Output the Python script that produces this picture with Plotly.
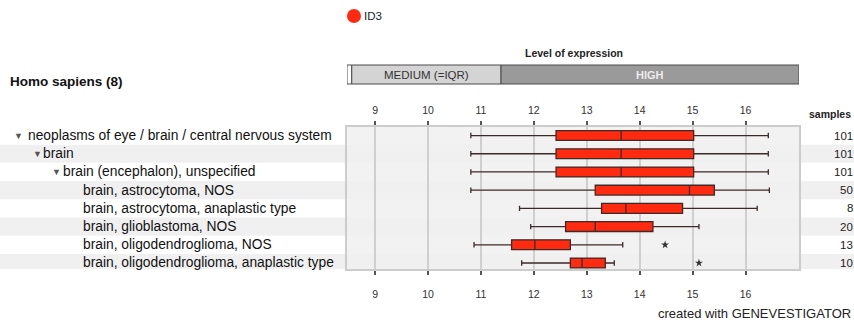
import plotly.graph_objects as go

W, H = 854, 322

# ---------------- data ----------------
categories = [
    "neoplasms of eye / brain / central nervous system",
    "brain",
    "brain (encephalon), unspecified",
    "brain, astrocytoma, NOS",
    "brain, astrocytoma, anaplastic type",
    "brain, glioblastoma, NOS",
    "brain, oligodendroglioma, NOS",
    "brain, oligodendroglioma, anaplastic type",
]
levels = [0, 1, 2, 3, 3, 3, 3, 3]
samples = [101, 101, 101, 50, 8, 20, 13, 10]
lower = [10.81, 10.81, 10.81, 10.81, 11.73, 11.94, 10.87, 11.77]
q1 = [12.42, 12.42, 12.42, 13.16, 13.28, 12.60, 11.58, 12.69]
median = [13.65, 13.65, 13.65, 14.94, 13.74, 13.16, 12.02, 12.91]
q3 = [15.02, 15.02, 15.02, 15.41, 14.81, 14.25, 12.69, 13.35]
upper = [16.43, 16.43, 16.43, 16.45, 16.22, 15.12, 13.68, 13.52]
outlier_rows = [6, 7]
outlier_vals = [14.48, 15.12]
tick_vals = [9, 10, 11, 12, 13, 14, 15, 16]
x_range = [8.47, 17.01]
low_max = 8.56
medium_max = 11.38
gene = "ID3"

FONT = "Arial, Liberation Sans, sans-serif"
RED = "#ff2a10"
rows = list(range(len(categories)))


def px(x):
    return x / W


def py(y):
    return 1 - y / H


fig = go.Figure()

fig.add_trace(go.Box(
    y=rows, q1=q1, median=median, q3=q3,
    lowerfence=lower, upperfence=upper,
    orientation="h", width=0.54, whiskerwidth=0.55,
    fillcolor=RED, line=dict(color="#3c2a28", width=1.3),
    showlegend=False, hoverinfo="skip", boxpoints=False,
))
fig.add_trace(go.Scatter(
    x=outlier_vals, y=outlier_rows, mode="markers",
    marker=dict(symbol="star", size=6, color="#333333"),
    showlegend=False, hoverinfo="skip",
))
# invisible trace to drive the top axis
fig.add_trace(go.Scatter(x=[None], y=[None], xaxis="x2", showlegend=False))

shapes = []
# alternating row bands
for r in rows:
    if r % 2 == 1:
        shapes.append(dict(type="rect", xref="paper", yref="y", x0=0, x1=1,
                           y0=r - 0.5, y1=r + 0.5, fillcolor="#f0f0f0",
                           line=dict(width=0), layer="below"))
# expression level bar
bar_y0, bar_y1 = py(84), py(65)
for x0, x1, col in [(x_range[0], low_max, "#ffffff"),
                    (low_max, medium_max, "#d4d4d4"),
                    (medium_max, x_range[1], "#9a9a9a")]:
    shapes.append(dict(type="rect", xref="x", yref="paper", x0=x0, x1=x1,
                       y0=bar_y0, y1=bar_y1, fillcolor=col,
                       line=dict(color="#4a4a4a", width=1)))
# legend marker
shapes.append(dict(type="circle", xref="paper", yref="paper",
                   x0=px(347), x1=px(361), y0=py(23), y1=py(9),
                   fillcolor="#ff2a10", line=dict(color="#ff2a10", width=0)))

annotations = []


def ann(x, y, text, size, color="#222222", xanchor="center", xref="paper", yref="paper"):
    annotations.append(dict(xref=xref, yref=yref, x=x, y=y, text=text, showarrow=False,
                            xanchor=xanchor, yanchor="middle",
                            font=dict(family=FONT, size=size, color=color)))


ann(px(362), py(16), gene, 11.5, "#222222", "left")
ann((low_max + medium_max) / 2, (bar_y0 + bar_y1) / 2, "MEDIUM (=IQR)", 11.5, "#333333",
    xref="x")
ann((medium_max + x_range[1]) / 2, (bar_y0 + bar_y1) / 2, "<b>HIGH</b>", 11, "#ececec",
    xref="x")
ann(px(574), py(53), "<b>Level of expression</b>", 10.5, "#222222")
ann(px(8), py(82), "<b>Homo sapiens (8)</b>", 13.5, "#111111", "left")
ann(px(807), py(114), "<b>samples</b>", 10.5, "#222222", "left")
ann(px(853), py(313), "created with GENEVESTIGATOR", 13, "#222222", "right")

text_x = [26, 41, 61, 81]
tri_x = [12, 31, 50]
for r, (cat, lev, n) in enumerate(zip(categories, levels, samples)):
    ann(px(text_x[lev]), r, cat, 13.8, "#111111", "left", yref="y")
    if lev < 3:
        ann(px(tri_x[lev]), r, "▼", 9, "#555555", "left", yref="y")
    ann(px(855), r, str(n), 11.5, "#222222", "right", yref="y")

fig.update_layout(
    width=W, height=H,
    margin=dict(l=0, r=0, t=0, b=0),
    paper_bgcolor="white",
    plot_bgcolor="#f2f2f2",
    shapes=shapes,
    annotations=annotations,
    showlegend=False,
    xaxis=dict(domain=[px(347), px(799)], range=x_range, tickvals=tick_vals,
               showgrid=True, gridcolor="#cfcfcf", gridwidth=1.5,
               zeroline=False, showline=True, linecolor="#cccccc", linewidth=1.5,
               mirror="ticks", ticks="outside", ticklen=4, tickcolor="#555555",
               tickwidth=1.5, ticklabelstandoff=11,
               tickfont=dict(family=FONT, size=10.5, color="#333333"), anchor="y"),
    xaxis2=dict(domain=[px(347), px(799)], range=x_range, tickvals=tick_vals,
                overlaying="x", side="top", matches="x", showgrid=False,
                zeroline=False, showline=False, ticks="", ticklabelstandoff=10,
                tickfont=dict(family=FONT, size=10.5, color="#333333"), anchor="y"),
    yaxis=dict(domain=[py(269), py(127)], range=[7.33, -0.47],
               showgrid=False, zeroline=False, showticklabels=False,
               showline=True, linecolor="#cccccc", linewidth=1.5, mirror=True),
)

fig.write_html("out.html", config={"displayModeBar": False},
               post_script="document.body.style.margin='0';")
